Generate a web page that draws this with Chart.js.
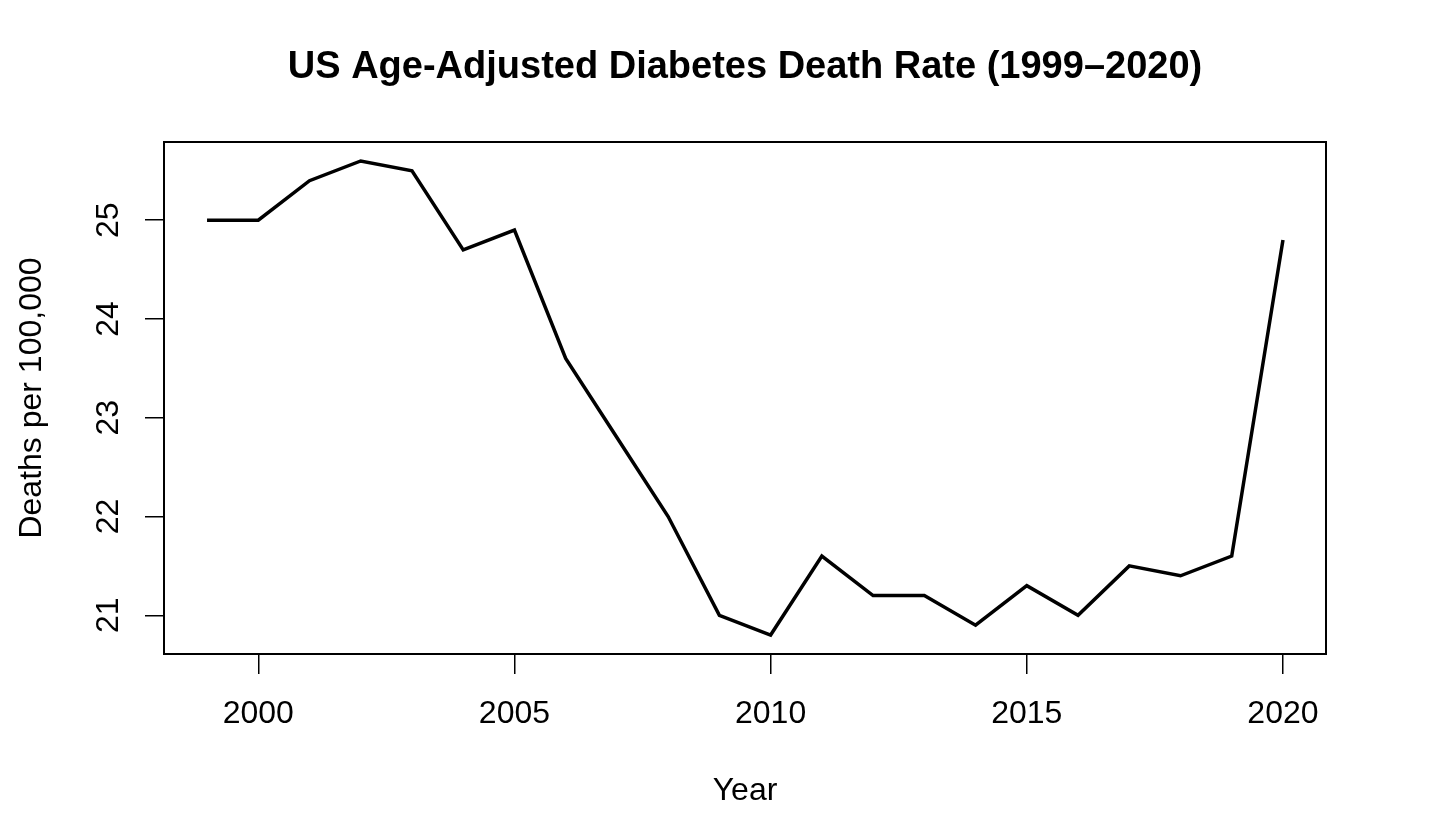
<!DOCTYPE html>
<html>
<head>
<meta charset="utf-8">
<script src="https://cdn.jsdelivr.net/npm/chart.js@4/dist/chart.umd.min.js"></script>
<style>
  html, body { margin: 0; padding: 0; background: #fff; }
  canvas { display: block; }
</style>
</head>
<body>
<canvas id="deathRate" width="1444" height="820"></canvas>
<script>
// data
const years = [1999, 2000, 2001, 2002, 2003, 2004, 2005, 2006, 2007, 2008, 2009,
               2010, 2011, 2012, 2013, 2014, 2015, 2016, 2017, 2018, 2019, 2020];
const rates = [25.0, 25.0, 25.4, 25.6, 25.5, 24.7, 24.9, 23.6, 22.8, 22.0, 21.0,
               20.8, 21.6, 21.2, 21.2, 20.9, 21.3, 21.0, 21.5, 21.4, 21.6, 24.8];
const xTicks = [2000, 2005, 2010, 2015, 2020];
const yTicks = [21, 22, 23, 24, 25];

const titleText = 'US Age-Adjusted Diabetes Death Rate (1999\u20132020)';
const xTitle = 'Year';
const yTitle = 'Deaths per 100,000';
const fontFamily = '"Liberation Sans", Arial, Helvetica, sans-serif';

// R style 4% padding around the data range
function padRange(vals) {
    const lo = Math.min(...vals), hi = Math.max(...vals);
    const d = (hi - lo) * 0.04;
    return { min: lo - d, max: hi + d };
}
const xr = padRange(years);
const yr = padRange(rates);

// box, rotated y labels, titles
const baseRPlot = {
    id: 'baseRPlot',
    afterDatasetsDraw(chart) {
        const { ctx, chartArea, scales } = chart;
        const { left, right, top, bottom } = chartArea;
        ctx.save();
        ctx.strokeStyle = '#000';
        ctx.lineWidth = 2;
        ctx.strokeRect(left, top, right - left, bottom - top);

        ctx.fillStyle = '#000';
        ctx.font = '32px ' + fontFamily;
        ctx.textAlign = 'center';
        ctx.textBaseline = 'alphabetic';
        yTicks.forEach(v => {
            const py = scales.y.getPixelForValue(v);
            ctx.save();
            ctx.translate(118, py);
            ctx.rotate(-Math.PI / 2);
            ctx.fillText(String(v), 0, 0);
            ctx.restore();
        });

        const cx = (left + right) / 2;
        const cy = (top + bottom) / 2;
        ctx.fillText(xTitle, cx, 800);
        ctx.save();
        ctx.translate(41, cy);
        ctx.rotate(-Math.PI / 2);
        ctx.fillText(yTitle, 0, 0);
        ctx.restore();

        ctx.font = 'bold 38px ' + fontFamily;
        ctx.fillText(titleText, cx, 78);
        ctx.restore();
    }
};

const config = {
    type: 'line',
    data: {
        datasets: [{
            data: years.map((y, i) => ({ x: y, y: rates[i] })),
            borderColor: '#000',
            borderWidth: 3.5,
            pointRadius: 0,
            tension: 0,
            fill: false,
        }]
    },
    options: {
        responsive: false,
        animation: false,
        devicePixelRatio: 1,
        layout: { padding: { top: 142, right: 118, left: 0, bottom: 0 } },
        plugins: {
            legend: { display: false },
            tooltip: { enabled: false },
        },
        scales: {
            x: {
                type: 'linear',
                min: xr.min,
                max: xr.max,
                afterBuildTicks: (scale) => { scale.ticks = xTicks.map(v => ({ value: v })); },
                afterFit: (scale) => { scale.height = 166; },
                border: { display: false },
                grid: {
                    drawOnChartArea: false,
                    drawTicks: true,
                    tickLength: 20,
                    color: '#000',
                    lineWidth: 1.5,
                },
                ticks: {
                    color: '#000',
                    font: { family: fontFamily, size: 32 },
                    padding: 21,
                    maxRotation: 0,
                    autoSkip: false,
                    callback: (v) => String(v),
                },
            },
            y: {
                min: yr.min,
                max: yr.max,
                afterBuildTicks: (scale) => { scale.ticks = yTicks.map(v => ({ value: v })); },
                afterFit: (scale) => { scale.width = 164; },
                border: { display: false },
                grid: {
                    drawOnChartArea: false,
                    drawTicks: true,
                    tickLength: 19,
                    color: '#000',
                    lineWidth: 1.5,
                },
                ticks: { display: false },
            },
        },
    },
    plugins: [baseRPlot],
};

const deathRateChart = new Chart(document.getElementById('deathRate'), config);
</script>
</body>
</html>
